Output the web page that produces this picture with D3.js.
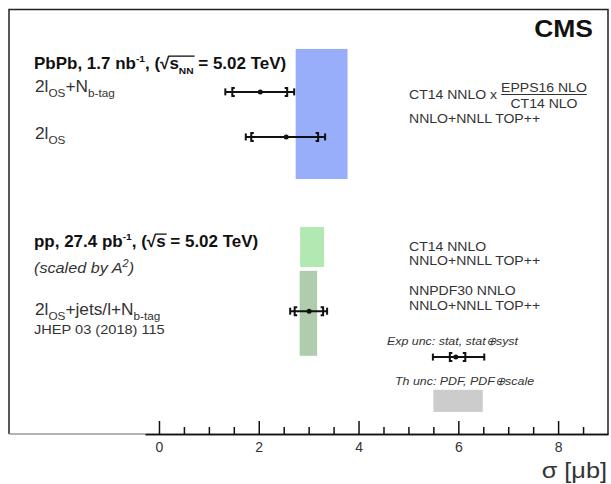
<!DOCTYPE html>
<html>
<head>
<meta charset="utf-8">
<script src="https://cdn.jsdelivr.net/npm/d3@7"></script>
<style>
body { margin: 0; background: #fff; }
text { font-family: "Liberation Sans", Arial, Helvetica, sans-serif; }
</style>
</head>
<body>
<svg id="chart" width="611" height="484"></svg>
<script>
// measured cross sections, sigma in microbarn
var measNames = ['PbPb 2lOS+Nbtag', 'PbPb 2lOS', 'pp (scaled by A^2)', 'legend']
var measRow = [8.05, 6.99, 2.89, 1.81]
var measCenter = [2.03, 2.55, 3.01, 5.95]
var statLo = [1.47, 1.85, 2.72, 5.83]
var statHi = [2.57, 3.19, 3.29, 6.14]
var totLo = [1.33, 1.74, 2.63, 5.49]
var totHi = [2.71, 3.33, 3.37, 6.52]

// theory predictions
var bandNames = ['CT14 NNLO x EPPS16/CT14', 'CT14 NNLO', 'NNPDF30 NNLO', 'legend']
var bandLo = [2.74, 2.83, 2.82, 5.50]
var bandHi = [3.78, 3.31, 3.17, 6.49]
var bandTop = [9.06, 4.87, 3.84, 1.04]
var bandBottom = [6.00, 3.93, 1.84, 0.52]
var bandColor = ['#98aefa', '#b2e8b2', '#afcdad', '#cccccc']

var majorTicks = [0, 2, 4, 6, 8]
var tickLabels = ['0', '2', '4', '6', '8']

var SX = 1.08 // text looks a bit wide in the original

var svg = d3.select('#chart')
var x = d3.scaleLinear().domain([-0.28, 9]).range([145, 608])
var y = d3.scaleLinear().domain([0, 10]).range([434, 9])

// theory bands
svg.append('g').selectAll('rect')
    .data(bandLo)
    .join('rect')
    .attr('x', (d, i) => x(d))
    .attr('width', (d, i) => x(bandHi[i]) - x(d))
    .attr('y', (d, i) => y(bandTop[i]))
    .attr('height', (d, i) => y(bandBottom[i]) - y(bandTop[i]))
    .attr('fill', (d, i) => bandColor[i])

// frame
var frame = svg.append('g').attr('fill', 'none')
frame.append('path').attr('d', 'M9,434V9.5H608V434').attr('stroke', '#222').attr('stroke-width', 1.5)
frame.append('path').attr('d', 'M9,434H145').attr('stroke', '#999').attr('stroke-width', 1.5)

// axis
var gx = svg.append('g').attr('transform', 'translate(0,434)')
gx.call(d3.axisBottom(x).tickValues(majorTicks).tickFormat((d, i) => tickLabels[i])
    .tickSizeInner(-13).tickSizeOuter(0).tickPadding(8))
gx.append('g').call(d3.axisBottom(x).tickValues(d3.range(0.5, 9, 0.5).filter(v => v % 2 != 0))
    .tickSizeInner(-7).tickSizeOuter(0).tickFormat(''))
gx.selectAll('.domain').attr('stroke', '#111').attr('stroke-width', 1.5)
gx.selectAll('.tick line').attr('stroke', '#111').attr('stroke-width', 1.5)
gx.selectAll('.tick text').attr('font-size', 14).attr('fill', '#333')
    .attr('font-family', '"Liberation Sans", Arial, sans-serif')

// error bars
var eb = svg.append('g').attr('stroke', '#111').attr('fill', 'none').attr('stroke-width', 2)
measCenter.forEach(function(c, i) {
    let yy = y(measRow[i])
    eb.append('line').attr('x1', x(totLo[i])).attr('x2', x(totHi[i])).attr('y1', yy).attr('y2', yy)
    eb.append('line').attr('x1', x(totLo[i])).attr('x2', x(totLo[i])).attr('y1', yy - 3.5).attr('y2', yy + 3.5)
    eb.append('line').attr('x1', x(totHi[i])).attr('x2', x(totHi[i])).attr('y1', yy - 3.5).attr('y2', yy + 3.5)
    let l = x(statLo[i]), r = x(statHi[i])
    eb.append('path').attr('d', `M${l + 2.5},${yy - 4}H${l}V${yy + 4}H${l + 2.5}`)
    eb.append('path').attr('d', `M${r - 2.5},${yy - 4}H${r}V${yy + 4}H${r - 2.5}`)
    eb.append('circle').attr('cx', x(c)).attr('cy', yy).attr('r', 2.5).attr('fill', '#111').attr('stroke', 'none')
})

// text with sub/superscripts, parts = [[str, kind], ...]
function rich(px, py, parts, o) {
    o = o || {}
    let fs = o.size || 16
    let g = svg.append('g').attr('transform', `translate(${px},${py}) scale(${o.sx || SX},1)`)
    let t = g.append('text').attr('font-size', fs).attr('fill', o.color || '#333')
        .attr('font-weight', o.bold ? 'bold' : null).attr('font-style', o.italic ? 'italic' : null)
        .attr('text-anchor', o.anchor || 'start')
    let shift = 0
    let spans = []
    parts.forEach(function(p) {
        let kind = p[1] || ''
        let want = kind.indexOf('sub') >= 0 ? fs * 0.3 : kind.indexOf('sup') >= 0 ? -fs * 0.42 : 0
        let s = t.append('tspan').text(p[0]).attr('dy', want - shift)
        if (kind.indexOf('sub') >= 0 || kind.indexOf('sup') >= 0) s.attr('font-size', fs * (o.small || 0.68))
        shift = want
        spans.push([s, kind])
    })
    // overline for the sqrt part
    let ol = spans.filter(s => s[1].indexOf('ol') >= 0)
    if (ol.length) {
        let first = ol[0][0].node(), last = ol[ol.length - 1][0].node()
        let x0 = first.getStartPositionOfChar(0).x - 1
        let x1 = last.getEndPositionOfChar(last.getNumberOfChars() - 1).x + 1
        let yTop = -fs * 0.78
        g.append('line').attr('x1', x0).attr('x2', x1).attr('y1', yTop).attr('y2', yTop)
            .attr('stroke', o.color || '#333').attr('stroke-width', 1.3)
    }
    return t
}

// CMS label
rich(593, 37, [['CMS']], { size: 23, bold: true, color: '#111', anchor: 'end', sx: 1.15 })

// PbPb block
rich(34, 69, [['PbPb, 1.7 nb'], ['-1', 'sup'], [', (\u221A'], ['s', 'ol'], ['NN', 'subol'], [' = 5.02 TeV)']],
    { size: 16.5, bold: true, color: '#111', sx: 1.03, small: 0.6 })
rich(35, 92, [['2l'], ['OS', 'sub'], ['+N'], ['b-tag', 'sub']], { size: 16 })
rich(35, 139, [['2l'], ['OS', 'sub']], { size: 16 })

// pp block
rich(34, 247, [['pp, 27.4 pb'], ['-1', 'sup'], [', (\u221A'], ['s', 'ol'], [' = 5.02 TeV)']],
    { size: 16.5, bold: true, color: '#111', sx: 1.03, small: 0.6 })
rich(34, 273, [['(scaled by A'], ['2', 'sup'], [')']], { size: 15, italic: true })
rich(35, 315, [['2l'], ['OS', 'sub'], ['+jets/l+N'], ['b-tag', 'sub']], { size: 16 })
rich(34, 334, [['JHEP 03 (2018) 115']], { size: 13.5 })

// theory labels
var ct = rich(409, 99, [['CT14 NNLO x']], { size: 13 })
var fx = 409 + ct.node().getComputedTextLength() * SX + 4
var num = rich(fx, 92, [['EPPS16 NLO']], { size: 13 })
var nw = num.node().getComputedTextLength() * SX
svg.append('line').attr('x1', fx).attr('x2', fx + nw).attr('y1', 94.5).attr('y2', 94.5)
    .attr('stroke', '#333').attr('stroke-width', 1.2)
rich(fx + nw / 2, 107.5, [['CT14 NLO']], { size: 13, anchor: 'middle' })
rich(409, 123, [['NNLO+NNLL TOP++']], { size: 13 })
rich(409, 251, [['CT14 NNLO']], { size: 13 })
rich(409, 265, [['NNLO+NNLL TOP++']], { size: 13 })
rich(409, 295, [['NNPDF30 NNLO']], { size: 13 })
rich(409, 310, [['NNLO+NNLL TOP++']], { size: 13 })

// legend texts
rich(387, 345, [['Exp unc: stat, stat\u2295syst']], { size: 11.5, italic: true })
rich(395, 385, [['Th unc: PDF, PDF\u2295scale']], { size: 11.5, italic: true })

// axis title
rich(607, 478, [['\u03C3 [\u03BCb]']], { size: 22, anchor: 'end', sx: 1.15 })
</script>
</body>
</html>
